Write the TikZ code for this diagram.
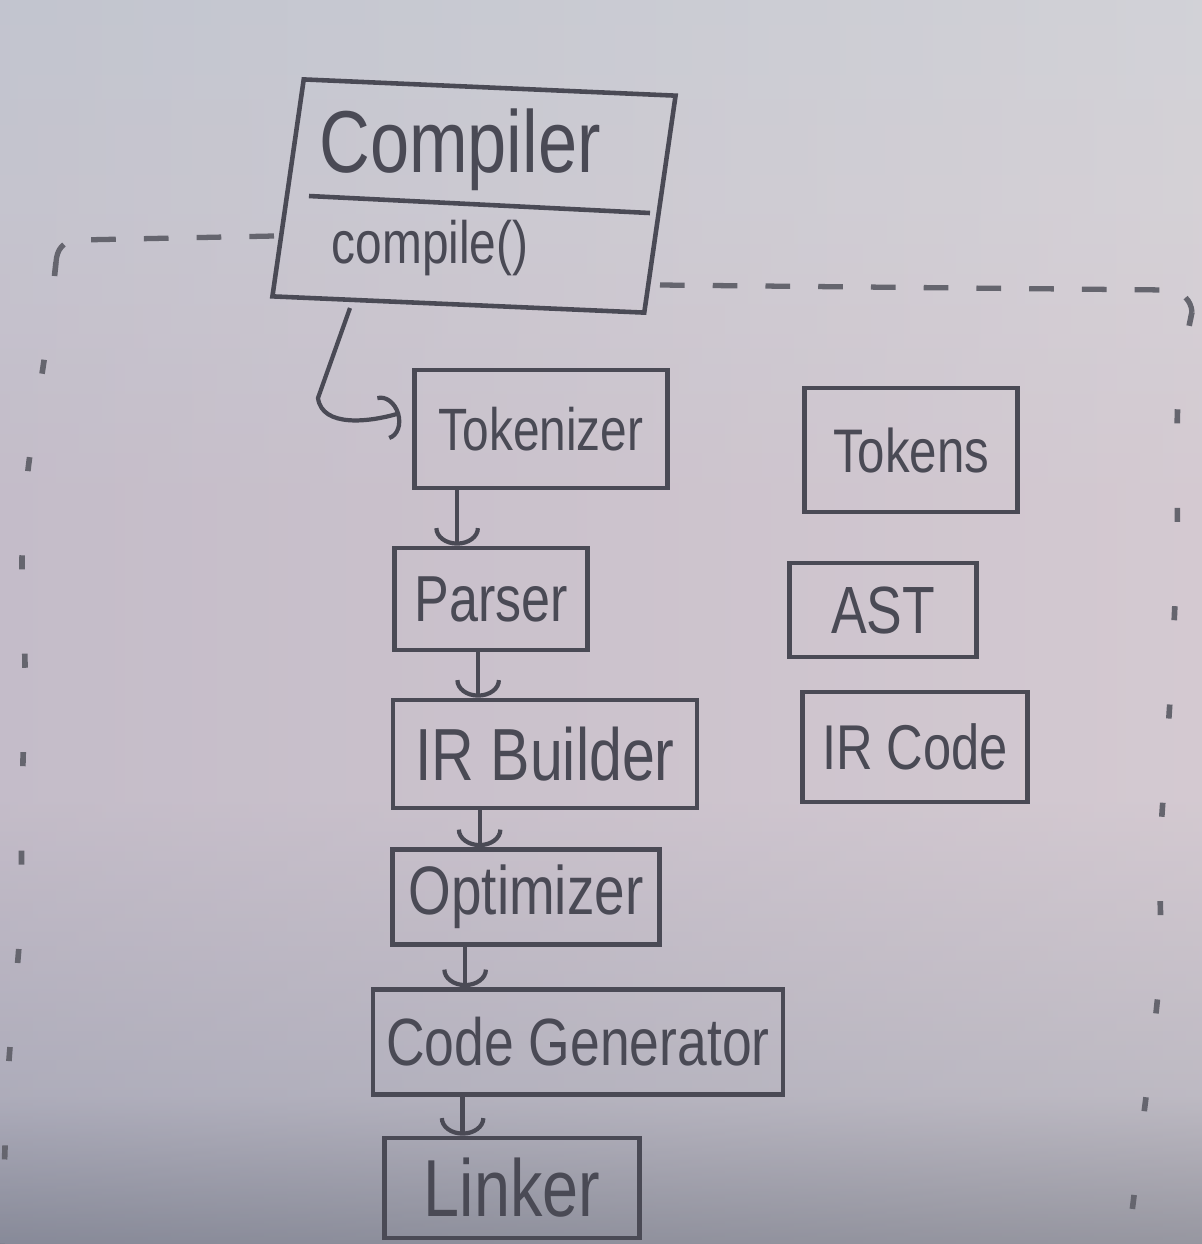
\documentclass[tikz,border=0pt]{standalone}
\usepackage{fontspec}
\setmainfont{Liberation Sans}[FakeStretch=0.8]
\usetikzlibrary{arrows.meta,calc}
\definecolor{ink}{HTML}{4A4A55}
\definecolor{bgtop}{HTML}{CFD2D7}
\definecolor{bgup}{HTML}{D3D1D6}
\definecolor{bgmid}{HTML}{D2C7CF}
\definecolor{bglow}{HTML}{B4B2BC}
\definecolor{bgbot}{HTML}{80838E}
\pgfdeclareverticalshading{board}{100bp}{color(0bp)=(bgbot); color(25bp)=(bgbot); color(31bp)=(bglow); color(43bp)=(bgmid); color(55bp)=(bgmid); color(67bp)=(bgup); color(75bp)=(bgtop); color(100bp)=(bgtop)}
\newcommand{\hsz}[1]{\fontsize{#1}{#1}\selectfont}
\tikzset{
  box/.style={draw=ink, line width=1.3pt, rectangle, inner sep=0pt, text=ink},
  txt/.style={text=ink, inner sep=0pt},
  inkline/.style={draw=ink, line width=1.3pt},
  flow/.style={draw=ink, line width=1.2pt, -{Arc Barb[length=5pt,width=13pt]}},
  frametop/.style={draw=ink!85, line width=1.5pt, dash pattern=on 7pt off 8pt},
  frameside/.style={draw=ink!85, line width=1.6pt, dash pattern=on 4pt off 24pt}
}
\begin{document}
\begin{tikzpicture}[x=0.01cm,y=-0.01cm]
\useasboundingbox (0,0) rectangle (1202,1244);
\shade[shading=board] (0,0) rectangle (1202,1244);
\shade[left color=bgtop!85!blue!60!gray, right color=bgmid!80!white, opacity=0.25] (0,0) rectangle (1202,1244);

% Compiler class
\node[box, minimum width=3.72cm, minimum height=2.18cm, rotate=-2.5, xslant=0.1] (comp) at (474,196) {};
\node[txt, font=\hsz{25}] (ctitle) at (460,150) {Compiler};
\node[txt, font=\hsz{17}] (cmeth) at (430,248) {compile()};
\draw[inkline] ($(comp.center)+(-165,0)$) -- ($(comp.center)+(176,17)$);

% pipeline
\node[box, minimum width=2.53cm, minimum height=1.18cm, font=\hsz{17}] (tok) at (541,429) {Tokenizer};
\node[box, minimum width=1.93cm, minimum height=1.02cm, font=\hsz{18.5}] (parser) at (491,599) {Parser};
\node[box, minimum width=3.04cm, minimum height=1.08cm, font=\hsz{21}] (irb) at (545,754) {IR Builder};
\node[box, minimum width=2.67cm, minimum height=0.95cm, font=\hsz{19.5}] (opt) at (526,897) {Optimizer};
\node[box, minimum width=4.10cm, minimum height=1.05cm, font=\hsz{19}] (cg) at (578,1042) {Code Generator};
\node[box, minimum width=2.55cm, minimum height=1.00cm, font=\hsz{23}] (link) at (512,1188) {Linker};

% data
\node[box, minimum width=2.13cm, minimum height=1.24cm, font=\hsz{17.5}] (tokens) at (911,450) {Tokens};
\node[box, minimum width=1.87cm, minimum height=0.94cm, font=\hsz{19}] (ast) at (883,610) {AST};
\node[box, minimum width=2.25cm, minimum height=1.10cm, font=\hsz{18}] (irc) at (915,747) {IR Code};

% connectors
\draw[flow] ($(comp.center)+(-124,112)$) -- (318,398) .. controls (322,428) and (370,422) .. ($(tok.west)+(-12,-16)$);
\path ($(tok.south west)+(45,0)$) coordinate (t1);
\draw[flow] (t1) -- (t1 |- parser.north);
\path ($(parser.south west)+(86,0)$) coordinate (t2);
\draw[flow] (t2) -- (t2 |- irb.north);
\path ($(irb.south west)+(89,0)$) coordinate (t3);
\draw[flow] (t3) -- (t3 |- opt.north);
\path ($(opt.south west)+(75,0)$) coordinate (t4);
\draw[flow] (t4) -- (t4 |- cg.north);
\path ($(cg.south west)+(92,0)$) coordinate (t5);
\draw[flow] (t5) -- (t5 |- link.north);

% dashed boundary
\draw[frametop] ($(comp.center)+(-200,40)$) -- (78,240) .. controls (62,241) and (57,250) .. (56,262);
\draw[frameside] plot[smooth] coordinates {(56,262) (47,340) (28,470) (22,560) (25,670) (22,800) (20,930) (8,1075) (2,1244)};
\draw[frametop] ($(comp.center)+(186,89)$) -- (1168,290) .. controls (1183,292) and (1191,300) .. (1192,312);
\draw[frameside] plot[smooth] coordinates {(1192,312) (1178,400) (1177,550) (1170,700) (1160,850) (1160,970) (1142,1130) (1128,1244)};
\end{tikzpicture}
\end{document}
